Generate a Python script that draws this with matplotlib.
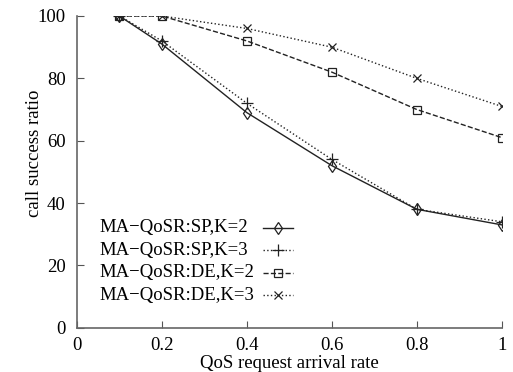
import numpy as np
import matplotlib.pyplot as plt

plt.rcParams['font.family'] = ['Liberation Serif', 'DejaVu Serif']

x = [0.1, 0.2, 0.4, 0.6, 0.8, 1.0]
sp_k2 = [100, 91, 69, 52, 38, 33]
sp_k3 = [100, 92, 72, 54, 38, 34]
de_k2 = [100, 100, 92, 82, 70, 61]
de_k3 = [100, 100, 96, 90, 80, 71]
labels = ['MA\u2212QoSR:SP,K=2', 'MA\u2212QoSR:SP,K=3',
          'MA\u2212QoSR:DE,K=2', 'MA\u2212QoSR:DE,K=3']

fs = 13.5
fig = plt.figure(figsize=(5.13, 3.72), dpi=100)
ax = fig.add_axes([0.150, 0.119, 0.828, 0.838])

c = '#222222'
l1, = ax.plot(x, sp_k2, '-', color=c, lw=1.0, marker='d', ms=6, mfc='none', mew=0.9)
l2, = ax.plot(x, sp_k3, ':', color=c, lw=1.0, marker='+', ms=8, mew=0.9)
l3, = ax.plot(x, de_k2, '--', color=c, lw=1.0, marker='s', ms=6, mfc='none', mew=0.9)
l4, = ax.plot(x, de_k3, ':', color=c, lw=1.0, marker='x', ms=6, mew=0.9)

ax.set_xlim(0, 1)
ax.set_ylim(0, 100)
ax.set_xticks([0, 0.2, 0.4, 0.6, 0.8, 1])
ax.set_xticklabels(['0', '0.2', '0.4', '0.6', '0.8', '1'])
ax.set_yticks([0, 20, 40, 60, 80, 100])
ax.tick_params(direction='in', labelsize=fs, length=5, width=0.8, color='#555555')
ax.tick_params(axis='x', pad=7)
ax.tick_params(axis='y', pad=8)
ax.spines['top'].set_visible(False)
ax.spines['right'].set_visible(False)
for s in ['left', 'bottom']:
    ax.spines[s].set_color('#666666')
    ax.spines[s].set_linewidth(1.2)
ax.set_xlabel('QoS request arrival rate', fontsize=fs, labelpad=0.5)
ax.set_ylabel('call success ratio', fontsize=fs)
ax.yaxis.set_label_coords(-0.080, 0.561)

# legend: handles only, labels drawn left-aligned to the left of them
leg = ax.legend([l1, l2, l3, l4], [''] * 4, loc='upper left',
                bbox_to_anchor=(0.438, 0.341), frameon=False, fontsize=fs,
                handlelength=1.6, handletextpad=0, labelspacing=0.28,
                borderpad=0, borderaxespad=0)
fig.canvas.draw()
r = fig.canvas.get_renderer()
inv = ax.transAxes.inverted()
for h, lab in zip(leg.legend_handles, labels):
    bb = h.get_window_extent(r)
    yc = inv.transform((0, (bb.y0 + bb.y1) / 2))[1]
    ax.text(0.054, yc, lab, transform=ax.transAxes, ha='left', va='center',
            fontsize=fs)

fig.savefig('out.png', dpi=100)
